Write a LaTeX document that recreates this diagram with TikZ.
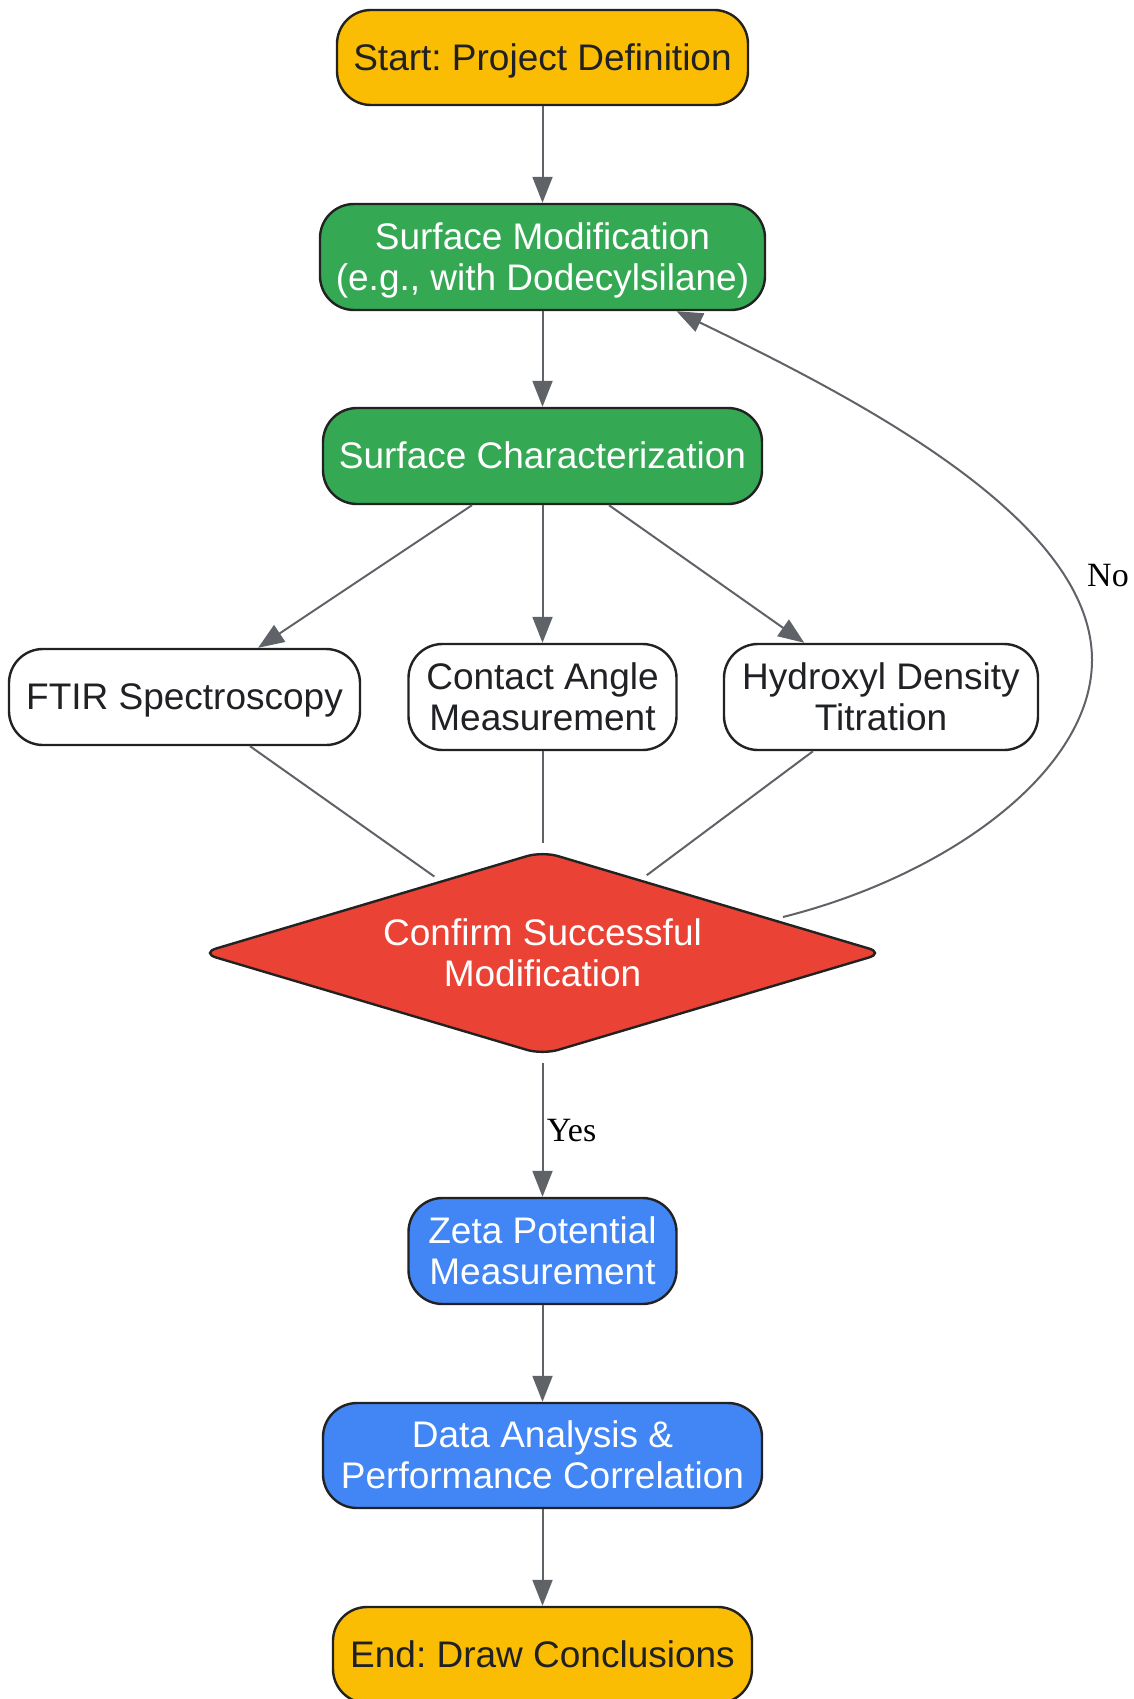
\documentclass[tikz,border=0pt]{standalone}
\usepackage{fontspec}
\setmainfont{Liberation Sans}
\newfontfamily\labelserif{Liberation Serif}
\usetikzlibrary{shapes.geometric,arrows.meta,calc}
\definecolor{gyellow}{HTML}{FBBC04}
\definecolor{ggreen}{HTML}{34A853}
\definecolor{gred}{HTML}{EA4335}
\definecolor{gblue}{HTML}{4285F4}
\definecolor{bordc}{HTML}{222222}
\definecolor{txtdark}{HTML}{202124}
\definecolor{edgec}{HTML}{5F6368}
\frenchspacing
\begin{document}
\begin{tikzpicture}[x=1pt,y=-1pt,
  box/.style={draw=bordc, line width=2.4pt, rounded corners=34pt, inner sep=2pt,
    align=center, font=\fontsize{37}{41}\selectfont, text=txtdark,
    text height=33.2pt, text depth=7.8pt},
  twoline/.style={text height=74.2pt, text depth=7.8pt},
  whitebox/.style={box, fill=white},
  yellowbox/.style={box, fill=gyellow},
  greenbox/.style={box, fill=ggreen, text=white},
  bluebox/.style={box, fill=gblue, text=white},
  decision/.style={diamond, aspect=3.35, draw=bordc, line width=2.4pt, fill=gred, text=white,
    rounded corners=16pt, inner sep=0pt, align=center,
    font=\fontsize{37}{41}\selectfont, minimum width=684pt, minimum height=204pt,
    text height=74.2pt, text depth=7.8pt},
  ln/.style={draw=edgec, line width=2pt},
  arr/.style={ln, -{Triangle[length=26pt,width=20pt]}},
  elabel/.style={font=\labelserif\fontsize{34}{40}\selectfont, text=black}
]
\clip (0,0) rectangle (1134,1699);
\fill[white] (0,0) rectangle (1134,1699);

\node[yellowbox, minimum width=411pt, minimum height=95pt] (start) at (542.5,57.5) {Start: Project Definition};
\node[greenbox, twoline, minimum width=445pt, minimum height=106pt] (smod) at (542.5,257) {Surface Modification\\(e.g., with Dodecylsilane)};
\node[greenbox, minimum width=439pt, minimum height=96pt] (char) at (542.5,456) {Surface Characterization};
\node[whitebox, minimum width=351pt, minimum height=96pt] (ftir) at (184.5,697) {FTIR Spectroscopy};
\node[whitebox, twoline, minimum width=268pt, minimum height=106pt] (contact) at (542.5,697) {Contact Angle\\Measurement};
\node[whitebox, twoline, minimum width=314pt, minimum height=106pt] (hyd) at (881,697) {Hydroxyl Density\\Titration};
\node[decision] (dia) at (542.5,953) {Confirm Successful\\Modification};
\node[bluebox, twoline, minimum width=268pt, minimum height=106pt] (zeta) at (542.5,1251) {Zeta Potential\\Measurement};
\node[bluebox, twoline, minimum width=439pt, minimum height=105pt] (data) at (542.5,1455.5) {Data Analysis \&\\Performance Correlation};
\node[yellowbox, minimum width=419pt, minimum height=96pt] (end) at (542.5,1655) {End: Draw Conclusions};

\draw[arr] (start) -- (smod);
\draw[arr] (smod) -- (char);
\draw[arr] ([xshift=-70.5pt]char.south) -- (ftir);
\draw[arr] (char) -- (contact);
\draw[arr] ([xshift=66.5pt]char.south) -- (hyd);
\draw[ln, shorten >=7pt] ([xshift=65.5pt]ftir.south) -- (dia);
\draw[ln, shorten >=7pt] (contact) -- (dia);
\draw[ln, shorten >=7pt] ([xshift=-68pt]hyd.south) -- (dia);
\draw[arr, shorten <=7pt] (dia) -- node[right, elabel, yshift=-4pt] (yeslab) {Yes} (zeta);
\draw[arr] (zeta) -- (data);
\draw[arr] (data) -- (end);

\coordinate (nostart) at ($(dia.center)+(240.5,-36)$);
\coordinate (noend) at ([xshift=134pt]smod.south);
\draw[arr] (nostart) .. controls (950,875) and (1092,770) .. (1092,660)
  .. controls (1092,520) and (860,400) .. (noend);
\node[elabel] (nolab) at (1108,576) {No};
\end{tikzpicture}
\end{document}
